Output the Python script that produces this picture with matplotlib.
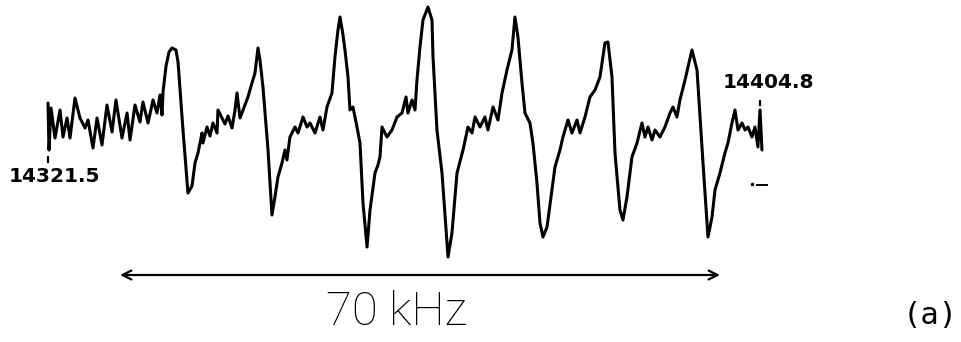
import matplotlib
matplotlib.use("Agg")
import matplotlib.pyplot as plt
import numpy as np

# Sweep limits (kHz) and the scale bar length
f_start = 14321.5
f_end = 14404.8
scale_bar_khz = 70

# Recorded derivative trace: offset from sweep start (kHz) and signal (a.u.)
offset_khz = [
    0.00, 0.12, 0.35, 0.82, 1.40, 1.75, 2.22, 2.57, 3.15, 3.73, 4.32, 4.67,
    5.25, 5.72, 6.30, 6.88, 7.47, 7.93, 8.63, 9.22, 9.57, 10.15, 10.73, 11.08,
    11.67, 12.25, 12.72, 13.07, 13.30, 13.42, 13.77, 14.12, 14.47, 14.93, 15.17,
    15.75, 16.33, 16.80, 17.15, 17.50, 17.97, 18.08, 18.55, 18.90, 19.25, 19.72,
    19.83, 20.30, 20.65, 21.00, 21.47, 21.82, 22.05, 22.40, 22.75, 23.33, 23.80,
    24.15, 24.50, 24.73, 25.08, 25.67, 26.13, 26.48, 26.83, 27.30, 27.65, 27.88,
    28.23, 28.82, 29.17, 29.75, 30.22, 30.57, 31.15, 31.73, 32.08, 32.55, 33.13,
    33.48, 33.83, 34.07, 34.42, 34.65, 35.00, 35.23, 35.58, 36.05, 36.40, 36.75,
    37.22, 37.57, 38.15, 38.50, 38.73, 38.97, 39.55, 40.13, 40.72, 41.30, 41.77,
    42.00, 42.47, 42.82, 43.05, 43.40, 43.75, 44.33, 44.80, 44.92, 45.38, 45.97,
    46.67, 47.13, 47.72, 48.42, 49.00, 49.47, 49.82, 50.40, 50.98, 51.33, 51.92,
    52.50, 52.97, 53.55, 54.13, 54.48, 54.83, 55.30, 55.65, 56.23, 56.58, 57.05,
    57.40, 57.75, 58.22, 58.80, 59.15, 59.73, 60.08, 60.67, 61.13, 61.72, 62.07,
    62.65, 63.23, 63.82, 64.40, 64.98, 65.33, 65.80, 66.15, 66.73, 67.08, 67.55,
    68.13, 68.72, 69.30, 69.65, 70.00, 70.47, 70.82, 71.40, 71.98, 72.57, 72.92,
    73.38, 73.73, 74.32, 75.13, 75.72, 76.07, 76.42, 77.00, 77.47, 77.82, 78.40,
    78.98, 79.33, 79.80, 80.15, 80.50, 80.97, 81.32, 81.67, 82.13, 82.48, 82.83,
    83.07, 83.30,
]
signal = [
    97, 50, 92, 62, 90, 63, 82, 62, 102, 82, 72, 80,
    52, 82, 55, 95, 68, 100, 62, 87, 60, 95, 78, 98,
    77, 100, 87, 105, 85, 108, 134, 148, 152, 150, 138,
    70, 7, 14, 37, 47, 67, 57, 73, 64, 77, 67,
    90, 82, 76, 84, 72, 90, 107, 82, 90, 103, 117,
    127, 152, 140, 113, 50, -15, 3, 23, 37, 50, 40,
    63, 73, 67, 83, 73, 77, 67, 83, 70, 93, 107,
    143, 170, 183, 165, 150, 123, 90, 93, 73, 57, -3,
    -47, -10, 27, 35, 43, 73, 63, 70, 83, 87, 103,
    87, 100, 90, 120, 153, 180, 193, 180, 143, 70, 27,
    -57, -33, 27, 50, 73, 67, 83, 73, 83, 70, 93,
    80, 107, 130, 150, 183, 163, 117, 87, 77, 57, 17,
    -23, -37, -27, 10, 33, 50, 63, 80, 67, 80, 67,
    83, 103, 110, 123, 157, 158, 123, 47, -10, -20, 3,
    43, 57, 77, 63, 73, 60, 70, 63, 73, 87, 93,
    83, 100, 120, 150, 130, 83, 37, -37, -17, 10, 27,
    47, 57, 77, 90, 70, 77, 70, 73, 63, 73, 53,
    90, 50,
]

freq = f_start + np.asarray(offset_khz)

fig = plt.figure(figsize=(9.61, 3.42), dpi=100)
ax = fig.add_axes([0, 0, 1, 1])
ax.set_xlim(f_start - 5.6, f_start + 106.52)
ax.set_ylim(-142, 200)
ax.axis("off")

ax.plot(freq, signal, color="black", lw=2.2, solid_joinstyle="round",
        solid_capstyle="round")

# end-of-sweep markers and their frequency labels
ax.plot([f_start, f_start], [38, 43], color="black", lw=1.6)
ax.plot([f_end - 0.2, f_end - 0.2], [95, 99], color="black", lw=1.6)
ax.text(f_start + 0.8, 24, f"{f_start:.1f}", ha="center", va="center",
        fontsize=14.5, family="DejaVu Sans", fontweight="bold", color="black")
ax.text(f_end + 0.8, 117, f"{f_end:.1f}", ha="center", va="center",
        fontsize=14.5, family="DejaVu Sans", fontweight="bold", color="black")

# small baseline marker to the right of the trace
ax.plot([f_end - 0.6, f_end + 0.6], [15, 15], color="black", lw=1.4)
ax.plot([f_end - 1.2], [16], marker="o", ms=1.5, color="black")

# 70 kHz scale bar
bar_left = f_start + 8.4
ax.annotate("", xy=(bar_left + scale_bar_khz, -75), xytext=(bar_left, -75),
            arrowprops=dict(arrowstyle="<->", lw=1.6, color="black",
                            mutation_scale=16, shrinkA=0, shrinkB=0))
ax.text(bar_left + scale_bar_khz / 2 - 2.7, -112, f"{scale_bar_khz} kHz",
        ha="center", va="center", fontsize=34, family="Roboto",
        fontweight="light", color="black")

ax.text(f_start + 102.9, -115, "(a)", ha="center", va="center",
        fontsize=22, family="DejaVu Sans Mono", color="black")

fig.savefig("out.png", dpi=100, facecolor="white")
